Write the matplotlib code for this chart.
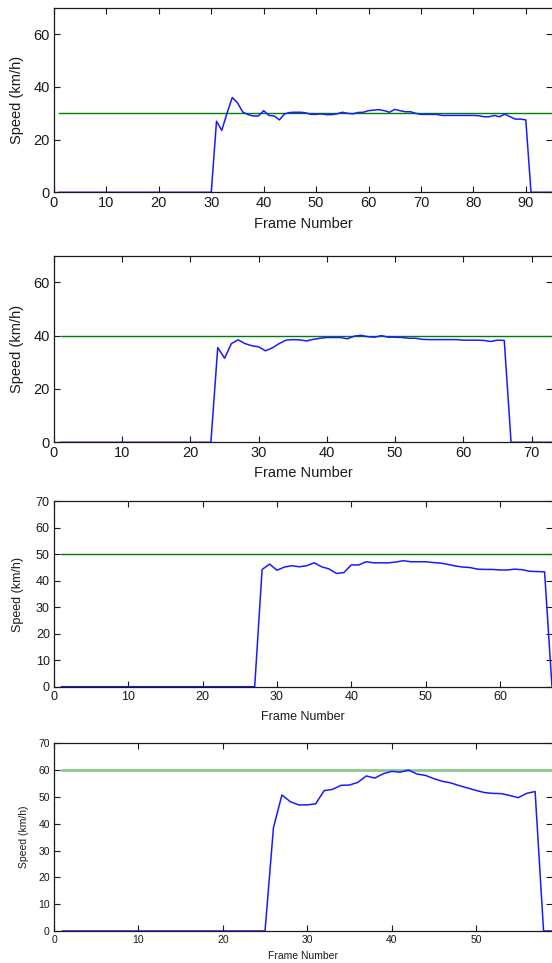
import matplotlib.pyplot as plt
import numpy as np

plt.rcParams['font.family'] = ['Liberation Sans', 'DejaVu Sans']

# speed per frame (km/h), four test runs; green line = speed limit of the run
speed_a = [0.0] * 30 + [
    27.0, 23.5, 30.0, 36.0, 34.0, 30.5, 29.5, 29.0, 29.0, 31.0,
    29.2, 29.0, 27.5, 29.8, 30.3, 30.4, 30.4, 30.2, 29.6, 29.6,
    29.8, 29.5, 29.5, 29.8, 30.4, 30.0, 29.8, 30.3, 30.4, 31.0,
    31.2, 31.4, 31.0, 30.4, 31.5, 31.0, 30.6, 30.6, 30.0, 29.6,
    29.6, 29.6, 29.6, 29.2, 29.2, 29.2, 29.2, 29.2, 29.2, 29.2,
    29.1, 28.7, 28.7, 29.2, 28.7, 29.7, 28.7, 27.8, 27.8, 27.5,
] + [0.0] * 5
limit_a = 30

speed_b = [0.0] * 23 + [
    35.5, 31.5, 37.0, 38.4, 37.0, 36.2, 35.8, 34.3, 35.4, 37.0,
    38.3, 38.5, 38.4, 38.0, 38.6, 39.0, 39.3, 39.3, 39.3, 38.8,
    39.8, 40.1, 39.6, 39.4, 40.0, 39.4, 39.4, 39.3, 39.0, 39.0,
    38.6, 38.5, 38.5, 38.5, 38.5, 38.5, 38.3, 38.3, 38.3, 38.2,
    37.8, 38.3, 38.2,
] + [0.0] * 7
limit_b = 40

speed_c = [0.0] * 27 + [
    44.3, 46.3, 44.0, 45.2, 45.7, 45.3, 45.7, 46.8, 45.3, 44.5,
    42.8, 43.1, 46.0, 46.0, 47.2, 46.8, 46.8, 46.8, 47.1, 47.6,
    47.2, 47.2, 47.2, 46.9, 46.7, 46.2, 45.6, 45.2, 45.0, 44.4,
    44.3, 44.3, 44.1, 44.1, 44.4, 44.2, 43.6, 43.5, 43.4,
] + [0.0]
limit_c = 50

speed_d = [0.0] * 25 + [
    38.5, 50.7, 48.2, 47.0, 47.0, 47.4, 52.3, 52.8, 54.3, 54.4,
    55.4, 57.8, 57.0, 58.6, 59.5, 59.2, 60.0, 58.5, 58.0, 56.8,
    55.8, 55.2, 54.2, 53.3, 52.4, 51.6, 51.3, 51.2, 50.5, 49.7,
    51.3, 52.0,
] + [0.0] * 2
limit_d = 60

W, H = 552, 963
fig = plt.figure(figsize=(W / 100, H / 100), dpi=100)

# pixel boxes of each axes: top, bottom
boxes = [(8.0, 192.3), (255.6, 442.3), (501.4, 686.7), (743.2, 931.0)]
left_px = 54

runs = [
    (speed_a, limit_a, 95, np.arange(0, 91, 10), [0, 20, 40, 60], 10.5, '#008000', 1.0, 31.7, 17),
    (speed_b, limit_b, 73, np.arange(0, 71, 10), [0, 20, 40, 60], 10.5, '#008000', 1.0, 31.0, 17),
    (speed_c, limit_c, 67, np.arange(0, 61, 10), np.arange(0, 71, 10), 9.0, '#008000', 1.0, 30.0, 18),
    (speed_d, limit_d, 59, np.arange(0, 51, 10), np.arange(0, 71, 10), 7.5, '#8cc88c', 2.0, 25.0, 24),
]

for (top, bot), (speed, limit, xmax, xt, yt, fs, gcol, glw, xlab_off, ylab_x) in zip(boxes, runs):
    ax = fig.add_axes([left_px / W, 1 - bot / H, (W - left_px) / W, (bot - top) / H])
    frames = np.arange(1, len(speed) + 1)
    ax.plot(frames, [limit] * len(frames), color=gcol, lw=glw)
    ax.plot(frames, speed, color='#1a1aff', lw=1.1)
    ax.set_xlim(0, xmax)
    ax.set_ylim(0, 70)
    ax.set_xticks(xt)
    ax.set_yticks(yt)
    ax.tick_params(direction='in', top=True, right=True, length=4, width=0.8,
                   labelsize=fs, pad=3, colors='#1a1a1a')
    for s in ax.spines.values():
        s.set_color('#1a1a1a')
        s.set_linewidth(0.9)
    ax.spines['right'].set_visible(False)
    ax.set_xlabel('Frame Number', fontsize=fs, va='center', color='#1a1a1a')
    ax.set_ylabel('Speed (km/h)', fontsize=fs, va='center', color='#1a1a1a')
    ax.xaxis.set_label_coords(0.5, -xlab_off / (bot - top))
    ax.yaxis.set_label_coords((ylab_x - left_px) / (W - left_px), 0.5)

fig.savefig('out.png', dpi=100)
